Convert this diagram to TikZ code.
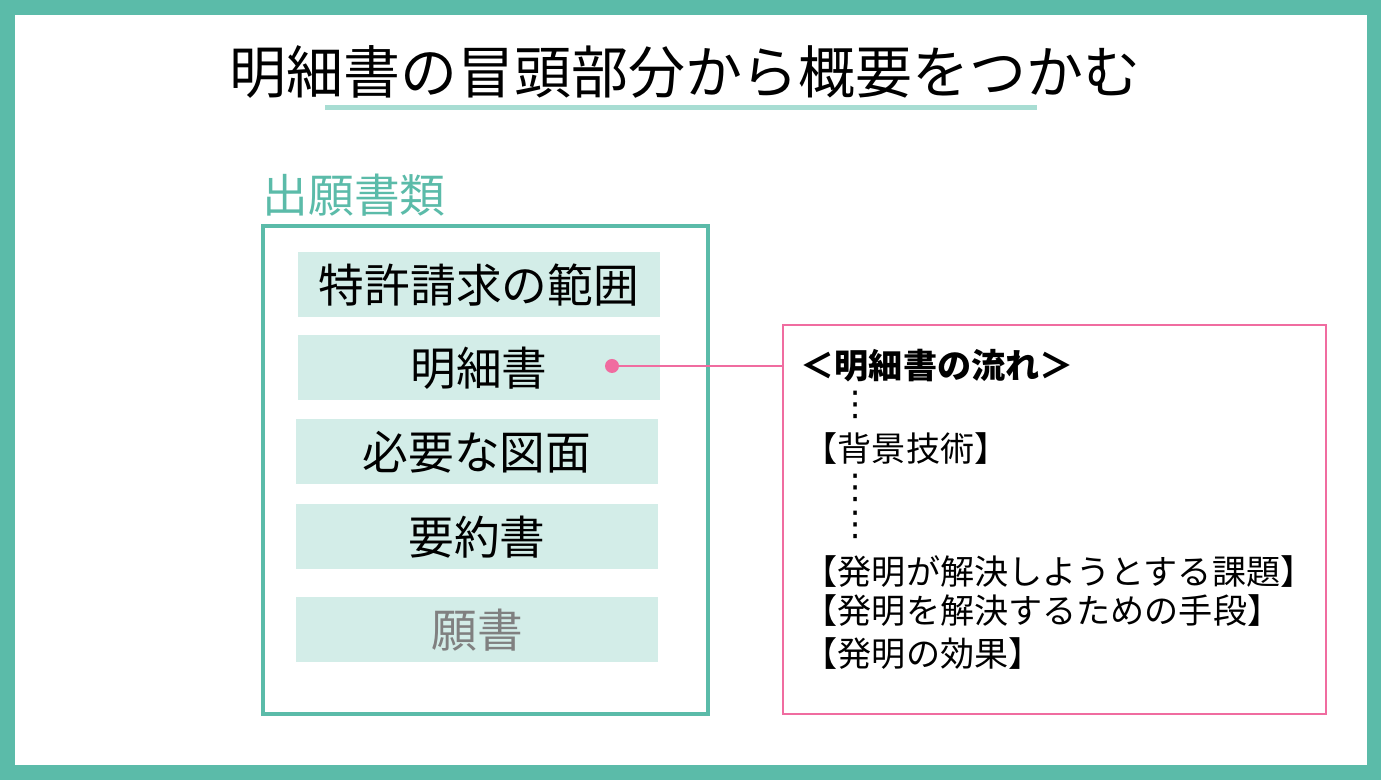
\documentclass[tikz,border=0pt]{standalone}
\usepackage{fontspec}
\setmainfont{Noto Sans CJK JP}
\newfontfamily\dvs{DejaVu Sans}
\definecolor{teal1}{HTML}{5BBBA9}
\definecolor{teal2}{HTML}{D3EDE8}
\definecolor{teal3}{HTML}{A8DDD3}
\definecolor{pink1}{HTML}{F06CA0}
\newlength\unitx \setlength\unitx{0.01cm}
\tikzset{item/.style={fill=teal2,draw=none,minimum width=362\unitx,minimum height=65\unitx,inner sep=0pt,font=\fontsize{13}{15}\selectfont},
 ln/.style={anchor=west,inner sep=0pt,font=\fontsize{9.7}{11}\selectfont}}
\begin{document}
\begin{tikzpicture}[x=0.01cm,y=-0.01cm]
\useasboundingbox (0,0) rectangle (1381,780);
\fill[teal1] (0,0) rectangle (1381,780);
\fill[white] (15,15) rectangle (1367,765);
\node[font=\fontsize{16.2}{18}\selectfont] (title) at (685,72) {明細書の冒頭部分から概要をつかむ};
\draw[teal3,line width=5\unitx] (325,108) -- (1037,108);
\node[anchor=west,inner sep=0pt,text=teal1,font=\fontsize{13}{15}\selectfont] (lab) at (262,195) {出願書類};
\draw[teal1,line width=3.5\unitx] (263,226) rectangle (708,714);
\node[item] (a) at (479,285) {特許請求の範囲};
\node[item] (b) at (479,368) {明細書};
\node[item] (c) at (477,452) {必要な図面};
\node[item] (d) at (477,537) {要約書};
\node[item,text=gray] (e) at (477,630) {願書};
\draw[pink1,line width=2\unitx] (783,325) rectangle (1326,714);
\coordinate (box) at (783,366);
\fill[pink1] (612,366) circle (7) coordinate (dot);
\draw[pink1,line width=2\unitx] (dot) -- (box);
\node[ln,font=\fontsize{9.7}{11}\selectfont\bfseries] (t0) at (800,366) {＜明細書の流れ＞};
\node[ln,font=\fontsize{9.7}{11}\dvs] (t1) at (838,405) {⋮};
\node[ln] (t2) at (803,449) {【背景技術】};
\node[ln,font=\fontsize{9.7}{11}\dvs] (t3) at (838,488) {⋮};
\node[ln,font=\fontsize{9.7}{11}\dvs] (t4) at (838,525) {⋮};
\node[ln] (t5) at (803,572) {【発明が解決しようとする課題】};
\node[ln] (t6) at (803,611) {【発明を解決するための手段】};
\node[ln] (t7) at (803,654) {【発明の効果】};
\end{tikzpicture}
\end{document}
